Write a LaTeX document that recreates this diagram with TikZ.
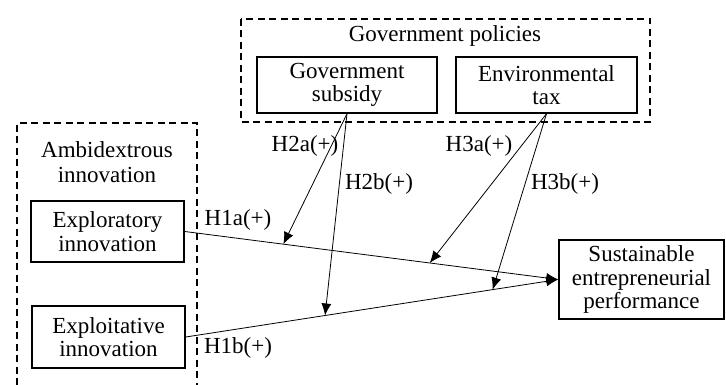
\documentclass[tikz,border=0pt]{standalone}
\usepackage{fontspec}
\setmainfont{Liberation Serif}
\usetikzlibrary{arrows.meta}
\begin{document}
\begin{tikzpicture}[x=1pt,y=-1pt,
  box/.style={draw,line width=1.5pt,align=center,inner sep=0pt,font=\fontsize{23}{23.5}\selectfont},
  grp/.style={draw,line width=1.2pt,dash pattern=on 7pt off 4.5pt},
  lbl/.style={font=\fontsize{23}{23.5}\selectfont,inner sep=0pt},
  arr/.style={line width=0.8pt,-{Latex[length=12pt,width=10pt]}}]
\useasboundingbox (0,0) rectangle (726,385);
% group boxes
\draw[grp] (241,19) rectangle (650,122);
\draw[grp] (17,385) -- (17,123) -- (197,123) -- (197,385);
\node[lbl] (gp) at (445,36) {Government policies};
\node[lbl,align=center,font=\fontsize{23}{25}\selectfont] (amb) at (107,162) {Ambidextrous\\innovation};
% boxes
\node[box,minimum width=180pt,minimum height=56pt] (sub) at (347,85) {Government\\subsidy};
\node[box,minimum width=181pt,minimum height=56pt] (env) at (546.5,85) {Environmental\\tax};
\node[box,minimum width=153pt,minimum height=61pt] (expl) at (107.5,231.5) {Exploratory\\innovation};
\node[box,minimum width=153pt,minimum height=62pt] (explt) at (108.5,337) {Exploitative\\innovation};
\node[box,minimum width=165pt,minimum height=79pt] (sust) at (641.5,279.5) {Sustainable\\entrepreneurial\\performance};
% main paths
\draw[arr] (expl.east) -- (sust.west)
  coordinate[pos=0.264] (m2a) coordinate[pos=0.656] (m3a);
\draw[arr] (explt.east) -- (sust.west)
  coordinate[pos=0.374] (m2b) coordinate[pos=0.824] (m3b);
% moderation arrows
\draw[arr] (sub.south) -- (m2a);
\draw[arr] (sub.south) -- (m2b);
\draw[arr] (env.south) -- (m3a);
\draw[arr] (env.south) -- (m3b);
% labels
\node[lbl] (h1a) at (238,220) {H1a(+)};
\node[lbl] (h1b) at (238,348) {H1b(+)};
\node[lbl] (h2a) at (305,146) {H2a(+)};
\node[lbl] (h2b) at (379,184) {H2b(+)};
\node[lbl] (h3a) at (479,146) {H3a(+)};
\node[lbl] (h3b) at (565,184) {H3b(+)};
\end{tikzpicture}
\end{document}
